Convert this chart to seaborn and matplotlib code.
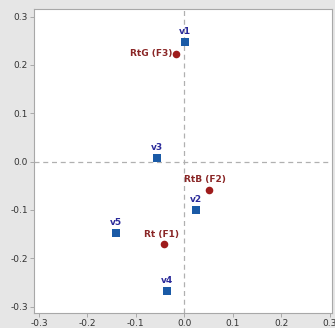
import pandas as pd
import seaborn as sns
import matplotlib
import matplotlib.pyplot as plt

font = {'family': 'DejaVu Sans', 'weight': 'normal', 'size': 6.5}
matplotlib.rc('font', **font)

# variables (blue squares)
var_names = ['v1', 'v2', 'v3', 'v4', 'v5']
var_x = [0.002, 0.025, -0.056, -0.035, -0.142]
var_y = [0.248, -0.100, 0.008, -0.268, -0.148]

# factors (red circles)
fac_names = ['RtG (F3)', 'RtB (F2)', 'Rt (F1)']
fac_x = [-0.018, 0.050, -0.041]
fac_y = [0.223, -0.058, -0.171]

ticks = [-0.3, -0.2, -0.1, 0.0, 0.1, 0.2, 0.3]
tick_labels = ['-0.3', '-0.2', '-0.1', '0.0', '0.1', '0.2', '0.3']

df_v = pd.DataFrame({'x': var_x, 'y': var_y, 'name': var_names})
df_f = pd.DataFrame({'x': fac_x, 'y': fac_y, 'name': fac_names})

blue = '#1a5aa6'
red = '#9e1b1b'

f, ax = plt.subplots(figsize=(3.35, 3.28), dpi=100)
f.patch.set_facecolor('#e6e6e6')
f.subplots_adjust(left=0.102, right=0.991, top=0.973, bottom=0.046)

ax.axhline(0, color='#b0b0b0', lw=0.9, ls=(0, (4, 3)), zorder=0)
ax.axvline(0, color='#b0b0b0', lw=0.9, ls=(0, (4, 3)), zorder=0)

sns.scatterplot(data=df_v, x='x', y='y', marker='s', s=30, color=blue,
                edgecolor=blue, linewidth=0, ax=ax)
sns.scatterplot(data=df_f, x='x', y='y', marker='o', s=30, color=red,
                edgecolor=red, linewidth=0, ax=ax)

for n, x, y in zip(var_names, var_x, var_y):
    ax.text(x, y + 0.012, n, color='#2a2a9a', fontsize=6.5, weight='bold',
            ha='center', va='bottom')
ax.text(fac_x[0] - 0.007, fac_y[0], fac_names[0], color='#8a2626', fontsize=6.5,
        weight='bold', ha='right', va='center')
ax.text(fac_x[1] - 0.007, fac_y[1] + 0.011, fac_names[1], color='#8a2626', fontsize=6.5,
        weight='bold', ha='center', va='bottom')
ax.text(fac_x[2] - 0.007, fac_y[2] + 0.011, fac_names[2], color='#8a2626', fontsize=6.5,
        weight='bold', ha='center', va='bottom')

ax.set_xlim(-0.31, 0.305)
ax.set_ylim(-0.313, 0.316)
ax.set_xticks(ticks)
ax.set_xticklabels(tick_labels)
ax.set_yticks(ticks)
ax.set_yticklabels(tick_labels)
ax.set_xlabel('')
ax.set_ylabel('')
ax.tick_params(length=3, width=0.6, color='#a0a0a0', labelsize=6.5,
               labelcolor='#333333', pad=1.5)
for s in ax.spines.values():
    s.set_color('#a8a8a8')
    s.set_linewidth(0.8)

f.savefig('out.png', dpi=100, facecolor=f.get_facecolor())
